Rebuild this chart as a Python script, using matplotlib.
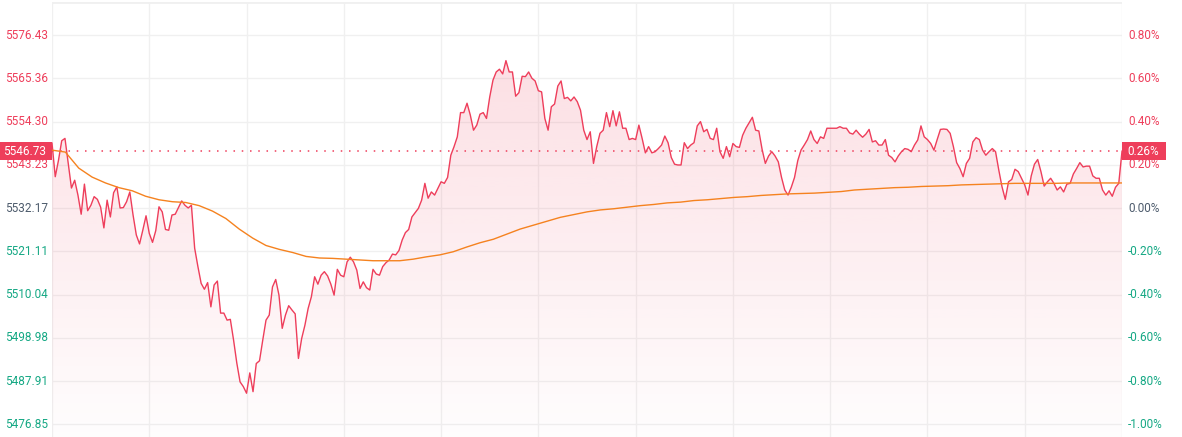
import matplotlib
matplotlib.use("Agg")
import matplotlib.pyplot as plt
import matplotlib.transforms as mtransforms
from matplotlib.patches import Rectangle
import numpy as np

prev_close = 5532.17
last_price = 5546.73
last_pct = "0.26%"

price_ticks = [5576.43, 5565.36, 5554.30, 5543.23, 5532.17, 5521.11, 5510.04, 5498.98, 5487.91, 5476.85]
pct_ticks = ["0.80%", "0.60%", "0.40%", "0.20%", "0.00%", "-0.20%", "-0.40%", "-0.60%", "-0.80%", "-1.00%"]

prices = [
    5548.8, 5540.2, 5544.4, 5549.4, 5550.0, 5543.7, 5537.3, 5539.3, 5535.5, 5530.6,
    5538.3, 5531.5, 5532.9, 5535.1, 5534.4, 5532.4, 5527.1, 5534.2, 5529.9, 5536.1,
    5537.6, 5532.2, 5532.3, 5533.8, 5536.3, 5530.4, 5525.3, 5523.0, 5526.5, 5530.2,
    5525.7, 5523.4, 5526.4, 5532.5, 5531.2, 5526.7, 5526.5, 5530.4, 5530.6, 5532.3,
    5534.0, 5532.9, 5532.2, 5532.9, 5521.9, 5517.2, 5512.9, 5511.4, 5513.1, 5506.9,
    5512.5, 5513.5, 5505.3, 5505.3, 5503.5, 5503.7, 5498.4, 5492.5, 5487.7, 5486.5,
    5484.8, 5490.0, 5485.2, 5492.4, 5493.1,
    5498.4, 5503.5, 5504.8, 5512.0, 5513.9, 5509.9, 5501.4, 5504.8, 5507.2, 5506.1,
    5505.1, 5493.7, 5498.8, 5502.2, 5506.5, 5509.5, 5514.6, 5512.7, 5515.0, 5515.9,
    5514.8, 5512.7, 5509.9, 5516.5, 5515.0, 5514.6, 5518.4, 5519.6, 5518.4, 5516.3,
    5511.6, 5513.3, 5511.8, 5511.2, 5516.5, 5515.3, 5515.0, 5517.2, 5518.2, 5518.9,
    5520.4, 5520.2, 5521.3, 5524.0, 5525.9, 5526.7, 5529.9, 5531.0, 5532.1, 5534.2,
    5538.5, 5534.7, 5536.3, 5535.5, 5537.2, 5538.9, 5538.5, 5540.0, 5545.7, 5547.9,
    5550.4, 5556.6, 5556.6, 5559.0,
    5556.0, 5552.1, 5553.4, 5556.2, 5556.6, 5555.1, 5560.6, 5564.9, 5567.0, 5567.7,
    5566.5, 5569.9, 5567.0, 5567.0, 5560.8, 5561.7, 5565.9, 5565.8, 5567.0, 5565.4,
    5564.7, 5562.2, 5561.9, 5555.1, 5552.1, 5558.1, 5558.8, 5563.4, 5564.7, 5560.2,
    5560.5, 5559.6, 5560.6, 5559.4, 5557.2, 5552.1, 5549.7, 5551.7, 5543.6, 5547.9,
    5551.3, 5552.1, 5556.6, 5553.0, 5557.1, 5553.2, 5556.8, 5552.6, 5552.6, 5549.7,
    5550.0, 5549.7, 5553.4, 5550.0, 5546.3, 5547.9, 5546.3, 5546.6, 5547.4, 5548.3,
    5550.6, 5548.9, 5545.1, 5543.4, 5543.2, 5543.2, 5548.9,
    5547.4, 5548.3, 5548.9, 5553.2, 5554.3, 5551.7, 5552.3, 5550.0, 5549.7, 5552.6,
    5546.6, 5544.9, 5547.9, 5545.3, 5548.7, 5547.9, 5547.7, 5550.8, 5552.6, 5554.0,
    5555.4, 5552.1, 5551.9, 5547.2, 5543.6, 5545.5, 5546.6, 5545.5, 5544.0, 5540.0,
    5536.8, 5535.5, 5537.5, 5540.0, 5544.3, 5547.0, 5548.3, 5549.7, 5551.9, 5549.7,
    5548.7, 5550.4, 5550.0, 5552.6, 5552.6, 5552.6, 5552.6, 5553.0, 5552.6, 5552.6,
    5551.4, 5551.1, 5552.1, 5551.1, 5550.3, 5551.1, 5552.3, 5549.1, 5549.4, 5548.3,
    5548.3, 5549.7, 5545.7, 5545.1, 5544.0, 5545.5,
    5546.6, 5547.4, 5547.2, 5546.6, 5548.3, 5549.6, 5553.2, 5550.4, 5549.7, 5548.7,
    5547.0, 5549.7, 5552.3, 5552.4, 5552.3, 5551.3, 5547.9, 5543.8, 5542.3, 5540.2,
    5543.6, 5544.9, 5549.1, 5550.2, 5549.7, 5547.0, 5545.7, 5546.6, 5547.4, 5546.6,
    5541.9, 5537.6, 5534.4, 5538.9, 5539.5, 5542.1, 5541.5, 5539.8, 5538.1, 5535.5,
    5540.4, 5543.4, 5544.6, 5541.5, 5537.8, 5538.9, 5539.8, 5538.5, 5536.8, 5537.6,
    5536.3, 5538.3, 5538.5, 5540.9, 5542.3, 5543.8, 5542.7, 5542.9, 5542.9, 5540.4,
    5539.8, 5539.8, 5536.8, 5535.5, 5536.6, 5535.2, 5537.5, 5538.5, 5546.73,
]

avg_prices = [
    5547.0, 5546.5, 5542.4, 5540.1, 5538.6, 5537.4, 5536.6, 5535.2, 5534.3, 5533.8,
    5533.6, 5532.8, 5531.4, 5529.5, 5526.8, 5524.5, 5522.6, 5521.6, 5520.8, 5519.8,
    5519.4, 5519.3, 5519.1, 5518.9, 5518.7, 5518.7, 5518.7, 5519.1, 5519.7, 5520.2,
    5521.0, 5522.2, 5523.3, 5524.2, 5525.5, 5526.8, 5527.8, 5528.8, 5529.8, 5530.5,
    5531.2, 5531.7, 5532.0, 5532.4, 5532.8, 5533.1, 5533.5, 5533.7, 5534.1, 5534.3,
    5534.6, 5534.9, 5535.1, 5535.4, 5535.6, 5535.8, 5535.9, 5536.0, 5536.2, 5536.4,
    5536.8, 5537.0, 5537.2, 5537.4, 5537.5, 5537.7, 5537.8, 5537.9, 5538.1, 5538.2,
    5538.3, 5538.4, 5538.5, 5538.5, 5538.5, 5538.5, 5538.6, 5538.6, 5538.6, 5538.6,
    5538.6,
]

RED = "#ee3e5b"
GREEN = "#15a884"
NEUTRAL = "#4d5b6c"
ORANGE = "#f5821f"
GRID = "#f0f0f0"

W, H = 1182, 437
fig = plt.figure(figsize=(W / 100, H / 100), dpi=100)
fig.patch.set_facecolor("white")
ax = fig.add_axes([52 / W, 0, 1070 / W, 435 / H])

n = len(prices)
x = np.arange(n)
x_avg = np.linspace(0, n - 1, len(avg_prices))
ymin, ymax = 5473.6, 5584.9
ax.set_xlim(0, n - 1)
ax.set_ylim(ymin, ymax)

# grid
for p in price_ticks:
    ax.axhline(p, color=GRID, lw=1, zorder=0)
ax.axhline(ymax, color=GRID, lw=2, zorder=0)
for v in np.linspace(0, n - 1, 12):
    ax.axvline(v, color=GRID, lw=1, zorder=0)

# gradient fill under the price line
poly = ax.fill_between(x, prices, ymin, facecolor="none", edgecolor="none")
grad = np.zeros((256, 1, 4))
c = matplotlib.colors.to_rgb(RED)
grad[:, 0, 0], grad[:, 0, 1], grad[:, 0, 2] = c
grad[:, 0, 3] = np.linspace(0.19, 0.01, 256)
im = ax.imshow(grad, aspect="auto", extent=[0, n - 1, ymin, ymax], origin="upper", zorder=1)
im.set_clip_path(poly.get_paths()[0], transform=ax.transData)

ax.plot(x, prices, color=RED, lw=1.0, zorder=3)
ax.plot(x_avg, avg_prices, color=ORANGE, lw=1.0, zorder=3)
ax.axhline(last_price, color=RED, lw=1.1, linestyle=(0, (1, 4.4)), zorder=2)

for s in ax.spines.values():
    s.set_visible(False)
ax.set_xticks([])
ax.set_yticks([])

# axis labels
left_tr = mtransforms.blended_transform_factory(fig.transFigure, ax.transData)
for p, pct in zip(price_ticks, pct_ticks):
    col = RED if p > prev_close + 0.01 else (GREEN if p < prev_close - 0.01 else NEUTRAL)
    fig.text(5 / W, p, f"{p:.2f}", transform=left_tr, color=col, fontsize=8.5,
             family="Roboto", ha="left", va="center")
    fig.text(1128 / W, p, pct, transform=left_tr, color=col, fontsize=8.5,
             family="Roboto", ha="left", va="center")

# current price boxes
box_h = 18 / H * (ymax - ymin) / (435 / H)
fig.patches.append(Rectangle((0, last_price - box_h / 2), 52 / W, box_h, transform=left_tr,
                             facecolor=RED, edgecolor="none", zorder=5))
fig.patches.append(Rectangle((1122 / W, last_price - box_h / 2), 44 / W, box_h, transform=left_tr,
                             facecolor=RED, edgecolor="none", zorder=5))
fig.text(3 / W, last_price, f"{last_price:.2f}", transform=left_tr, color="white", fontsize=8.5,
         family="Roboto", ha="left", va="center", zorder=6)
fig.text(1127 / W, last_price, last_pct, transform=left_tr, color="white", fontsize=8.5,
         family="Roboto", ha="left", va="center", zorder=6)

fig.savefig("out.png", dpi=100)
